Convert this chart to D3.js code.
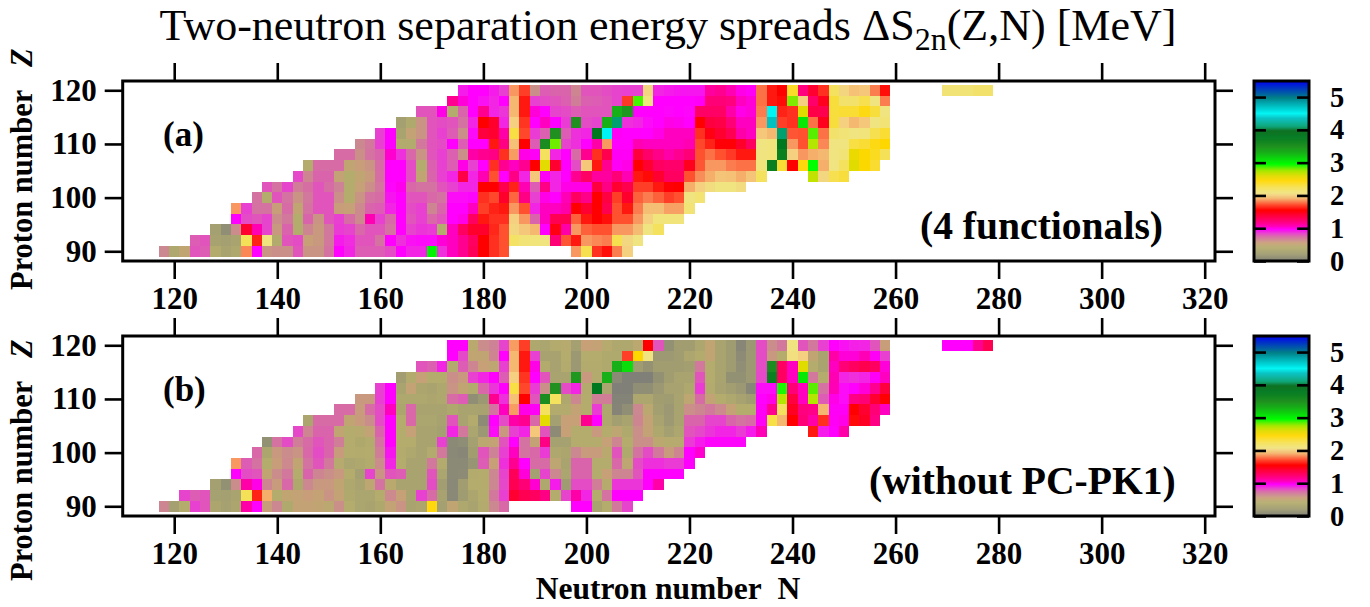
<!DOCTYPE html>
<html>

<head>
    <meta charset="UTF-8">
    <title>Two-neutron separation energy spreads</title>
    <script src="https://d3js.org/d3.v7.min.js"></script>
    <style>
        body { margin: 0; background: #fff; }
        svg { display: block; }
        text { font-family: "Liberation Serif", serif; fill: #000; }
        .axis text { font-size: 31px; font-weight: bold; }
        .axis line { stroke: #000; stroke-width: 2.6px; }
        .axis .domain { display: none; }
        .frame { fill: none; stroke: #000; stroke-width: 3px; }
        .label { font-weight: bold; }
    </style>
</head>

<body>
    <div id="chart"></div>
    <script>

        // proton number of each row, first neutron number of each row (N goes up in steps of 2)
        var zRows = [120, 118, 116, 114, 112, 110, 108, 106, 104, 102, 100, 98, 96, 94, 92, 90]
        var startA = [176, 174, 168, 164, 160, 156, 152, 146, 144, 138, 136, 132, 132, 128, 124, 118]
        var startB = [174, 174, 168, 164, 160, 156, 152, 146, 144, 138, 136, 132, 132, 128, 122, 118]
        var n = null

        // panel (a), 4 functionals
        var spreadsA = [
            [.92, .97, .97, .92, .85, 1.85, 1.68, .62, .78, .76, .76, .66, .8, .8, .82, .84, .85, .85, 2.02, .9, .92, .93, .93, .93, 1.12, 1.15, 1.08, 1.0, .98, 1.78, 1.6, 1.55, 2.35, 1.2, 1.42, 1.65, 2.2, 2.02, 1.95, 1.97, 1.8, 1.58, n, n, n, n, n, 2.12, 2.12, 2.12, 2.15, 2.15],
            [1.15, 1.02, .97, .94, .9, .97, 1.92, 1.6, .85, .82, .8, .77, .68, .77, .78, .8, .84, 1.67, 2.87, 2.08, .97, .97, .97, .97, .98, 1.22, 1.22, 1.2, 1.05, 1.02, 1.78, 1.6, 1.57, 2.8, 2.0, 1.25, 1.47, 2.3, 2.15, 2.15, 2.25, 2.08, 1.8],
            [.8, .8, 1.0, .42, .76, .97, 1.15, .9, .87, 1.92, 1.6, 1.02, .97, .84, .82, .78, .8, .8, .8, 3.3, 3.45, .97, .97, .97, .96, .97, .96, 1.27, 1.27, 1.27, 1.1, 1.0, 1.02, 1.8, 4.5, 1.62, 1.65, 2.6, 1.35, 1.33, 2.3, 2.32, 2.32, 2.4, 2.3, 2.08],
            [.25, .38, .6, .8, .82, .8, .72, .9, 1.55, 1.43, .9, 2.0, 1.66, .97, 1.05, .97, .86, 3.5, .82, .84, 3.3, 4.1, .88, .9, .95, .97, 1.0, .99, .97, 1.55, 1.38, 1.35, 1.22, 1.05, 1.05, 1.85, 4.35, 1.68, 1.65, 3.05, 1.78, 1.47, 2.3, 2.0, 1.92, 1.97, 2.08, 2.12],
            [.85, .97, .3, .52, .6, .8, .85, .78, .62, .95, 1.38, 1.42, 1.1, 2.28, 1.7, .86, .77, 3.5, .78, .88, .9, 3.8, 4.5, .98, .97, .97, .97, 1.0, 1.05, 1.05, 1.05, 1.65, 1.5, 1.42, 1.32, 1.1, 1.05, 1.97, 1.92, 4.1, 1.73, 1.72, 2.85, 1.78, 2.15, 2.12, 2.08, 2.1, 2.25, 2.32],
            [.65, .7, .85, .97, .4, .4, .7, .8, .82, .97, .78, .97, .97, 1.6, 1.18, 1.95, 1.55, .78, 3.55, 2.82, .84, .88, .97, 1.1, 1.85, .97, .97, 1.08, 1.05, 1.05, 1.05, 1.05, 1.08, 1.7, 1.62, 1.53, 1.53, 1.43, 1.28, 2.08, 2.1, 3.8, 1.85, 1.72, 2.72, 1.82, 2.08, 2.08, 2.28, 2.32, 2.4, 2.45],
            [.74, .74, .62, .72, .76, 1.03, .88, .75, .6, .8, .85, .77, .62, 1.1, 1.15, 1.18, 1.65, 1.86, 1.0, .98, 2.2, .9, .97, .74, 1.15, 1.65, 1.33, .98, .98, 1.38, 1.25, 1.17, 1.1, 1.15, 1.22, 1.72, 1.78, 1.72, 1.67, 1.6, 1.6, 2.08, 2.1, 3.7, 2.0, 1.85, 1.9, 1.92, 2.08, 2.12, 2.55, 2.47, 2.37, 2.22],
            [.42, .74, .74, .74, .5, .56, .6, .74, .97, .97, .82, .42, .77, .85, .78, 1.0, .85, .97, 1.65, 1.15, 1.05, 1.15, 1.55, 2.58, 1.42, .97, .82, 1.97, 1.6, 1.15, .98, 1.0, 1.55, 1.42, 1.28, 1.25, 1.25, 1.47, 1.73, 1.85, 1.85, 1.8, 1.78, 1.78, 2.1, 3.7, 2.32, 1.55, 2.42, 2.95, 1.9, 2.08, 2.2, 2.6, 2.47, 2.33],
            [.83, .66, .76, .76, .52, .42, .5, .57, .73, .97, .97, .82, .5, .76, .85, .9, 1.35, .9, 1.08, 1.72, .97, 1.18, .9, 1.97, .98, .9, .97, 1.15, 1.27, 1.12, 1.12, 1.22, 1.08, 1.6, 1.57, 1.42, 1.28, 1.28, 1.72, 1.83, 1.9, 1.96, 1.95, 1.9, 1.96, 2.2, n, n, n, n, 2.68, 2.03, 2.25, 2.3],
            [.8, .72, .84, .68, .73, .8, .74, .67, .42, .54, .62, .71, .96, .99, .75, .72, .72, .8, .85, .9, .9, 1.55, 1.55, 1.33, 1.62, 1.08, .78, 1.18, .9, 1.0, 1.0, 1.0, 1.38, 1.18, 1.42, 1.33, 1.68, 1.68, 1.6, 1.53, 1.55, 1.9, 2.0, 2.05, 2.08, 2.08, 2.05],
            [.72, .42, .8, .72, .6, .7, .8, .8, .62, .42, .6, .72, .74, .93, .97, .8, .8, .75, .72, .95, .95, .96, 1.65, 1.7, 1.43, 1.76, 1.18, .85, 1.0, .97, 1.07, 1.28, 1.17, 1.55, 1.37, 1.68, 1.43, 1.75, 1.8, 1.75, 1.68, 1.72, 2.08, 2.13],
            [1.85, .85, .72, .72, .56, .74, .5, .72, .8, .8, .56, .54, .64, .76, .78, .9, .97, .82, .85, .66, .76, .97, .97, 1.05, 1.68, 1.62, 1.6, 1.85, 1.72, .9, 1.05, 1.05, 1.1, 1.55, 1.42, 1.55, 1.33, 1.72, 1.6, 1.8, 1.94, 1.94, 1.87, 1.87, 2.12],
            [.97, .82, .8, .84, .63, .7, .42, .76, .6, .8, .85, .74, .64, 1.08, .85, .75, .97, .8, .85, .75, .8, .97, 1.0, 1.28, 1.6, 1.65, 1.65, 2.0, 1.85, .76, 1.05, 1.32, 1.32, 1.75, 1.6, 1.55, 1.58, 1.72, 1.72, 1.85, 2.0, 2.1, 2.1, 2.1],
            [.25, .1, .63, 1.42, 1.08, .84, .58, .76, .42, .66, .58, .7, .86, .84, .75, .8, .8, .72, .97, .84, .87, .86, .42, 1.05, 1.28, 1.43, 1.43, 1.63, 1.72, 2.03, 1.97, 1.92, .97, 1.5, 1.1, 1.85, 1.75, 1.72, 1.72, 1.85, 1.85, 1.93, 2.08, 2.2],
            [.78, .8, .28, .25, .3, 2.22, 1.62, 2.08, .4, .8, .82, .55, .58, .7, .92, .89, .8, .8, .72, .97, .88, .94, .95, .95, 1.02, 1.05, 1.15, 1.28, 1.55, 1.65, 1.72, 2.18, 2.12, 2.1, 2.08, 1.22, 1.73, 1.6, 1.85, 1.82, 1.8, 2.25, 2.03, 2.08],
            [.65, .35, .5, .8, .78, .4, .3, .35, 1.82, .97, .6, .62, .62, .8, .6, .6, .72, .97, .9, .78, .78, .78, .82, .97, .9, .9, 3.0, .88, 1.05, 1.15, 1.3, 1.55, 1.65, 1.72, n, n, n, n, n, n, 1.85, 2.25, 1.65, 1.58, 1.8, 2.0]
        ]

        // panel (b), without PC-PK1
        var spreadsB = [
            [.97, .97, .45, .63, .67, .84, 1.86, 1.68, .36, .32, .4, .44, .25, .55, .53, .44, .36, .36, .46, 1.55, .8, .12, .22, .22, .34, .5, .3, .2, .05, .17, .82, .63, .7, 2.08, .8, .7, .85, .97, .94, .91, .9, .8, .56, n, n, n, n, n, .97, .97, .97, 1.15, 1.32],
            [.97, .83, .5, .5, .66, .97, 1.92, 1.6, .85, .28, .28, .42, .17, .42, .42, .38, .38, 1.68, 2.45, 2.08, .18, .18, .22, .34, .4, .5, .3, .2, .08, .18, .82, .58, .42, 2.06, 2.0, .5, .3, 1.1, 1.02, 1.02, 1.07, .98, .85],
            [.8, .77, .9, .4, .78, .66, .55, .48, .85, 1.92, 1.6, 1.0, .4, .28, .4, .17, .4, .4, .38, 3.3, 3.1, .2, .13, .22, .22, .22, .24, .7, .42, .3, .2, .1, .18, .82, 3.55, 1.28, 1.05, 2.6, .42, .3, 1.05, 1.22, 1.28, 1.33, 1.28, 1.02],
            [.23, .4, .54, .42, .42, .62, .58, .85, .9, .97, .78, 2.0, 1.66, .97, .8, .3, .3, 3.45, .58, .4, 3.3, .07, 0, 0, 0, .12, .22, .3, .3, .8, .42, .3, .12, .12, .18, .83, 3.7, 1.28, 1.05, 3.05, .7, .42, 1.08, .9, .88, .9, .98, 1.05],
            [.85, .97, .3, .52, .33, .3, .36, .6, .5, .4, .75, .87, .97, 2.28, 1.7, .86, .62, 3.5, .82, .9, .4, 3.8, .32, 0, 0, .1, .1, .17, .28, .28, .35, .86, .4, .28, .23, .17, .05, .95, .95, 2.92, 1.22, 1.05, 2.85, .72, 1.07, .95, .97, 1.02, 1.15, 1.38],
            [.58, .58, .85, .97, .36, .36, .36, .33, .36, .74, .78, .1, .17, 1.15, .88, 1.95, 1.55, .8, 3.55, 2.2, .35, .65, .42, .68, .68, .02, .02, .34, .34, .22, .2, .3, .48, .74, .52, .42, .35, .28, .22, .97, 1.0, 2.72, 1.37, 1.05, 2.72, .78, 1.0, .95, 1.18, 1.22, 1.42, 1.55],
            [.74, .74, .57, .74, .82, 1.05, .33, .75, .3, .3, .3, .36, .3, .3, .28, .72, 1.05, 1.86, 1.0, .98, 2.2, .4, .4, .52, .42, .86, .36, .03, .1, .65, .46, .24, .17, .3, .62, .66, .7, .64, .53, .42, .42, .98, 1.15, 2.2, 1.45, 1.2, 1.17, 1.92, .98, .98, 1.55, 1.42, 1.22, 1.05],
            [.33, .74, .74, .74, .5, .57, .63, .82, .97, .42, .75, .32, .32, .28, .8, .3, .4, .08, .97, .82, 1.1, 1.15, .75, 2.58, .25, .55, .55, 1.15, .97, .36, .24, .3, .66, .52, .3, .18, .3, .76, .76, .84, .84, .76, .72, .74, .98, 2.27, 1.92, 1.55, 1.22, 1.1, 1.65, .98, 1.0, 1.57, 1.45, 1.18],
            [.83, .66, .76, .76, .5, .42, .44, .52, .76, .97, .42, .54, .3, .3, .25, .9, .7, .32, .17, .95, .58, .85, .9, 1.97, .8, .08, .55, .42, .42, .58, .42, .48, .38, .62, .52, .36, .25, .34, .8, .83, .87, .9, .9, .86, .92, 1.07, n, n, n, n, 1.6, .92, .97, 1.1],
            [.12, .72, .82, .68, .74, .8, .76, .68, .42, .37, .4, .72, .97, .42, .42, .3, .3, .85, .07, .09, .25, .46, .52, .8, .97, .72, .52, 1.18, .27, .27, .42, .42, .42, .54, .66, .42, .62, .62, .46, .44, .44, .86, .92, .96, .96, .96, .96],
            [.75, .33, .58, .63, .6, .75, .82, .76, .57, .42, .4, .42, .68, .93, .4, .36, .3, .4, .7, .06, .05, .22, .8, .67, .85, 1.05, .72, .75, .86, .35, .33, .65, .57, .57, .45, .8, .38, .72, .82, .7, .57, .66, .97, 1.03],
            [1.85, .78, .72, .42, .56, .64, .5, .72, .8, .7, .44, .32, .35, .4, .63, .9, .42, .3, .3, .7, .4, .07, .07, .15, .78, .55, .88, 1.15, .97, .74, .74, .48, .3, .76, .76, .42, .42, .75, .48, .82, .88, .88, .86, .86, .97],
            [.97, .82, .8, .5, .63, .7, .42, .76, .66, .62, .58, .42, .25, .84, .6, .8, .78, .3, .3, .8, .32, .07, .08, .4, .42, .65, .84, 1.3, 1.02, .25, .84, .65, .32, .76, .76, .42, .55, .66, .66, .8, .97, .97, .97, .97],
            [.25, .12, .63, 1.1, 1.0, .66, .57, .75, .37, .65, .58, .58, .5, .35, .3, .48, .72, .45, .3, .3, .3, .82, .23, .06, .22, .42, .42, .65, .83, 1.32, 1.22, 1.03, .35, .92, .2, .82, .82, .68, .44, .87, .87, .87, .97, 1.1],
            [.84, .78, .8, .27, .25, .3, 2.22, 1.62, 1.9, .42, .5, .52, .56, .53, .6, .52, .38, .32, .32, .42, .64, .54, .3, .85, .74, .28, .06, .2, .33, .42, .7, .85, 1.42, 1.32, 1.28, 1.18, .42, .84, 1.1, .9, .42, .72, .97, .97, .97],
            [.66, .25, .42, .85, .8, .33, .27, .33, 1.1, .97, .56, .65, .38, .52, .52, .5, .46, .62, .42, .32, .3, .37, .52, .6, .3, .33, 2.42, .25, .5, .36, .3, .4, .65, .75, n, n, n, n, n, n, .97, .97, .3, .42, .7, .84]
        ]

        // tick labels
        var nTicks = [120, 140, 160, 180, 200, 220, 240, 260, 280, 300, 320]
        var zTicks = [90, 100, 110, 120]
        var barTicks = [0, 1, 2, 3, 4, 5]

        // palette of the colour bar
        var colorValues = [0, .2, .42, .55, .65, .75, .85, .97, 1.05, 1.15, 1.28, 1.42, 1.55, 1.65, 1.72, 1.85, 1.92, 2.0, 2.08, 2.25, 2.45, 2.6, 2.75, 2.85, 2.95, 3.3, 3.5, 3.8, 3.97, 4.1, 4.35, 4.5, 4.98, 5.49]
        var colorNames = ["#808078", "#a09c72", "#b4ac6c", "#c8a078", "#cc8890", "#d868a8", "#e840d0", "#ff00ff", "#ff00c0", "#ff0090", "#ff0060", "#ff0030", "#ff0000", "#ff3020", "#ff5030", "#f89860", "#f4b870", "#f4d080", "#f0e480", "#f6e050", "#ffd700", "#e0dc00", "#a8e800", "#58f000", "#00ff00", "#18b018", "#209020", "#007820", "#006814", "#00a070", "#00c0c0", "#00f4f4", "#008088", "#0000f0"]

        var myColor = d3.scaleLinear().domain(colorValues).range(colorNames)

        var svg = d3.select("#chart")
            .append("svg")
            .attr("width", 1370)
            .attr("height", 607)

        var x = d3.scaleLinear().domain([110, 322]).range([122.7, 1215])

        // title
        var title = svg.append("text")
            .attr("x", 668)
            .attr("y", 40)
            .attr("text-anchor", "middle")
            .style("font-size", "44px")
        title.append("tspan").text("Two-neutron separation energy spreads ΔS")
        title.append("tspan").attr("dy", 10).style("font-size", "32px").text("2n")
        title.append("tspan").attr("dy", -10).text("(Z,N) [MeV]")

        function drawPanel(top, spreads, start, tag, note, noteX, labelY) {
            var bottom = top + 180
            var y = d3.scaleLinear().domain([88.19, 121.73]).range([bottom, top])
            var g = svg.append("g")

            // one rect per nucleus
            zRows.forEach(function (z, row) {
                var cells = spreads[row].map(function (v, i) {
                    return { N: start[row] + 2 * i, Z: z, value: v }
                }).filter(function (d) { return d.value !== null })
                g.selectAll(null)
                    .data(cells)
                    .enter()
                    .append("rect")
                    .attr("x", function (d) { return x(d.N - 1) })
                    .attr("y", function (d) { return y(d.Z + 1) })
                    .attr("width", function (d) { return x(d.N + 1) - x(d.N - 1) })
                    .attr("height", function (d) { return y(d.Z - 1) - y(d.Z + 1) })
                    .attr("shape-rendering", "crispEdges")
                    .style("fill", function (d) { return myColor(d.value) })
            })

            // axes, ticks point outwards on all four sides
            svg.append("g").attr("class", "axis")
                .attr("transform", "translate(0," + bottom + ")")
                .call(d3.axisBottom(x).tickValues(nTicks).tickSize(18).tickPadding(8))
            svg.append("g").attr("class", "axis")
                .attr("transform", "translate(0," + top + ")")
                .call(d3.axisTop(x).tickValues(nTicks).tickSize(18).tickFormat(""))
            svg.append("g").attr("class", "axis")
                .attr("transform", "translate(" + x(110) + ",0)")
                .call(d3.axisLeft(y).tickValues(zTicks).tickSize(18).tickPadding(8))
            svg.append("g").attr("class", "axis")
                .attr("transform", "translate(" + x(322) + ",0)")
                .call(d3.axisRight(y).tickValues(zTicks).tickSize(18).tickFormat(""))
            svg.append("rect").attr("class", "frame")
                .attr("x", x(110)).attr("y", top)
                .attr("width", x(322) - x(110)).attr("height", bottom - top)

            // colour bar
            var barY = d3.scaleLinear().domain([0, 5.49]).range([bottom, top])
            svg.append("g").selectAll("rect")
                .data(d3.range(0, 5.49, 0.03))
                .enter()
                .append("rect")
                .attr("x", 1254)
                .attr("y", function (d) { return barY(d + 0.03) })
                .attr("width", 55)
                .attr("height", function (d) { return barY(d) - barY(d + 0.03) + 0.5 })
                .style("fill", function (d) { return myColor(d) })
            svg.append("g").attr("class", "axis")
                .attr("transform", "translate(1309,0)")
                .call(d3.axisLeft(barY).tickValues(barTicks).tickSize(12).tickFormat(""))
            svg.append("g").attr("class", "axis")
                .attr("transform", "translate(1254,0)")
                .call(d3.axisRight(barY).tickValues(barTicks).tickSize(12).tickFormat(""))
            var barLabels = svg.append("g").attr("class", "axis")
                .attr("transform", "translate(1309,0)")
                .call(d3.axisRight(barY).tickValues(barTicks).tickSize(0).tickPadding(21).tickFormat(d3.format("d")))
            barLabels.selectAll("text").style("font-size", "28.5px")
            svg.append("rect").attr("class", "frame")
                .attr("x", 1254).attr("y", top).attr("width", 55).attr("height", bottom - top)

            // panel texts
            svg.append("text").attr("class", "label")
                .attr("x", 163).attr("y", top + 65)
                .style("font-size", "35px").text(tag)
            svg.append("text").attr("class", "label")
                .attr("x", noteX).attr("y", top + 158)
                .style("font-size", "39.6px").text(note)

            // y title
            var ly = svg.append("text").attr("class", "label")
                .attr("transform", "translate(32," + labelY + ") rotate(-90)")
                .style("font-size", "30.5px")
            ly.append("tspan").text("Proton number\u00a0\u00a0\u00a0")
            ly.append("tspan").style("font-style", "italic").text("Z")
        }

        drawPanel(81, spreadsA, startA, "(a)", "(4 functionals)", 920, 290)
        drawPanel(336, spreadsB, startB, "(b)", "(without PC-PK1)", 869, 581)

        // x title
        var lx = svg.append("text").attr("class", "label")
            .attr("x", 668).attr("y", 599)
            .attr("text-anchor", "middle")
            .style("font-size", "31.5px")
        lx.append("tspan").text("Neutron number\u00a0\u00a0")
        lx.append("tspan").text("N")

    </script>
</body>

</html>
